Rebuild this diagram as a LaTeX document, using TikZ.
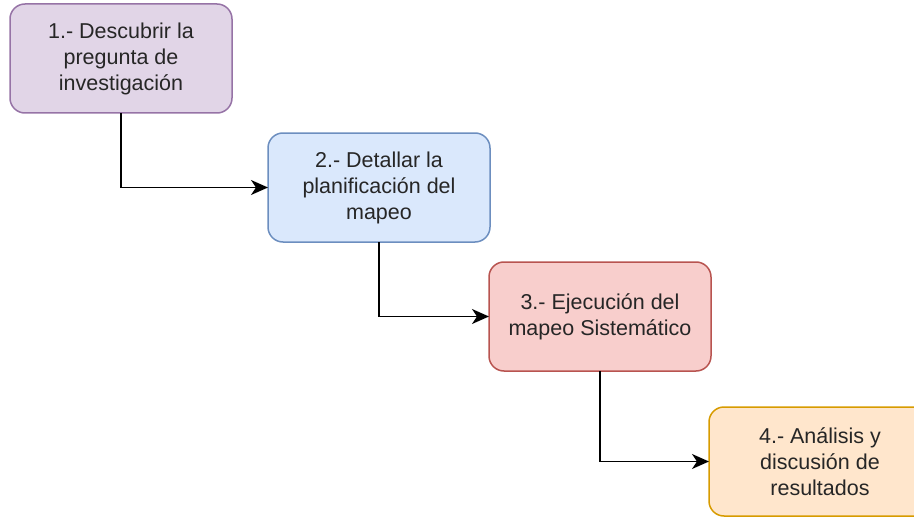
\documentclass[tikz,border=0pt]{standalone}
\usepackage{fontspec}
\setmainfont{Liberation Sans}
\usetikzlibrary{arrows.meta,positioning}

\definecolor{lilafill}{HTML}{E1D5E7}
\definecolor{lilaline}{HTML}{9673A6}
\definecolor{azulfill}{HTML}{DAE8FC}
\definecolor{azulline}{HTML}{6C8EBF}
\definecolor{rojofill}{HTML}{F8CECC}
\definecolor{rojoline}{HTML}{B85450}
\definecolor{narafill}{HTML}{FFE6CC}
\definecolor{naraline}{HTML}{D79B00}

\begin{document}
\begin{tikzpicture}[x=1pt, y=-1pt,
	fase/.style={rectangle, rounded corners=15pt, line width=1.5pt, draw, align=center,
		minimum width=222pt, minimum height=109pt, inner sep=0pt, outer sep=0pt,
		font=\fontsize{21.5}{26}\selectfont, text=black!85},
	flecha/.style={line width=1.6pt, -{Stealth[length=17pt,width=15pt,inset=5pt]}}]
	\clip (0,0) rectangle (914,519);
	\useasboundingbox (0,0) rectangle (914,519);

	\node[fase, fill=lilafill, draw=lilaline, anchor=north west] (f1) at (10,4) {1.- Descubrir la\\pregunta de\\investigación};
	\node[fase, fill=azulfill, draw=azulline, below right=20pt and 36pt of f1] (f2) {2.- Detallar la\\planificación del\\mapeo};
	\node[fase, fill=rojofill, draw=rojoline, below right=20pt and -1pt of f2] (f3) {3.- Ejecución del\\mapeo Sistemático};
	\node[fase, fill=narafill, draw=naraline, below right=36pt and -2pt of f3] (f4) {4.- Análisis y\\discusión de\\resultados};

	\draw[flecha] (f1.south) |- (f2.west);
	\draw[flecha] (f2.south) |- (f3.west);
	\draw[flecha] (f3.south) |- (f4.west);
\end{tikzpicture}
\end{document}
